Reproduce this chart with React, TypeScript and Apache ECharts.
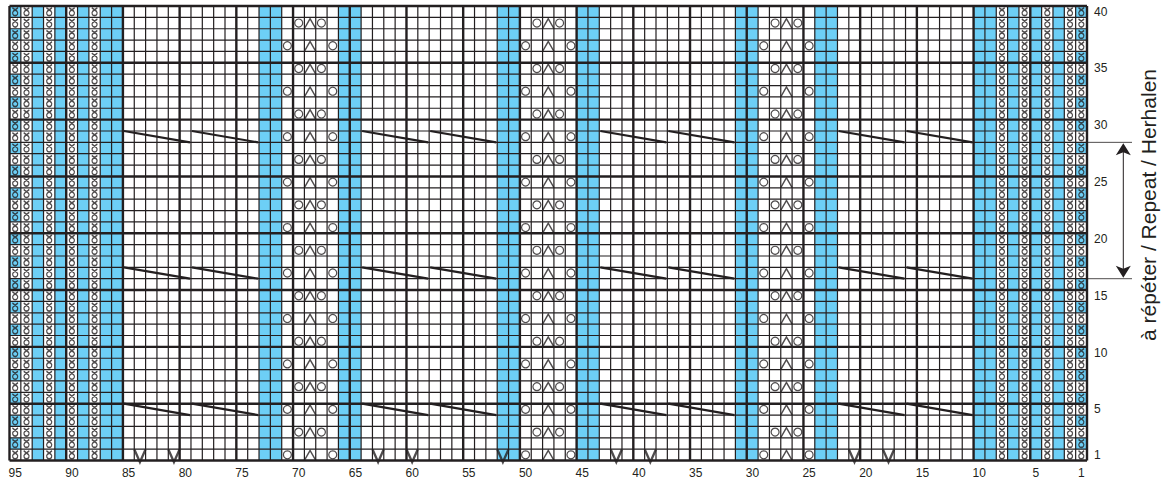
import React, { useEffect, useRef } from "react";
import * as echarts from "echarts";

const columns = [95,94,93,92,91,90,89,88,87,86,85,84,83,82,81,80,79,78,77,76,75,74,73,72,71,70,69,68,67,66,65,64,63,62,61,60,59,58,57,56,55,54,53,52,51,50,49,48,47,46,45,44,43,42,41,40,39,38,37,36,35,34,33,32,31,30,29,28,27,26,25,24,23,22,21,20,19,18,17,16,15,14,13,12,11,10,9,8,7,6,5,4,3,2,1];
const rows = [1,2,3,4,5,6,7,8,9,10,11,12,13,14,15,16,17,18,19,20,21,22,23,24,25,26,27,28,29,30,31,32,33,34,35,36,37,38,39,40];
const columnLabels = [95,90,85,80,75,70,65,60,55,50,45,40,35,30,25,20,15,10,5,1];
const rowLabels = [1,5,10,15,20,25,30,35,40];

const blueColumns = [93,91,89,87,86,73,72,66,65,52,51,45,44,31,30,24,23,10,9,7,5,3];
const edgeColumns = [95,1];
const evenRows = [2,4,6,8,10,12,14,16,18,20,22,24,26,28,30,32,34,36,38,40];
const twistedColumns = [95,94,92,90,88,8,6,4,2,1];

const motifCentres = [69,48,27];
const closeRows = [3,7,11,15,19,23,27,31,35,39];
const wideRows = [1,5,9,13,17,21,25,29,33,37];
const closeOffsets = [-1,1];
const wideOffsets = [-2,2];

const slantRows = [29,17,5];
const slantStarts = [85,79,64,58,43,37,22,16];
const slantSpan = 6;
const slipColumns = [84,81,63,60,52,42,39,21,18];

const repeatFrom = 16;
const repeatTo = 28;
const repeatLabel = "à répéter / Repeat / Herhalen";

const INK = "#231f20";
const BLUE = "#6dcff6";
const TWIST = "path://M0.5 0 L5.5 4.5 C7 6.5 6 10 3.5 10 C1 10 0 6.5 1.5 4.5 L6.5 0";
const DEC = "path://M0 10 L5 0 L10 10";
const SLIP = "path://M0 0 L5.5 12 L11 0";

const colIdx = (c: number) => columns.indexOf(c);
const rowIdx = (r: number) => rows.indexOf(r);

const blueData: number[][] = [];
blueColumns.forEach((c) => rows.forEach((r) => blueData.push([colIdx(c), rowIdx(r)])));
edgeColumns.forEach((c) => evenRows.forEach((r) => blueData.push([colIdx(c), rowIdx(r)])));

const twistData: number[][] = [];
twistedColumns.forEach((c) => rows.forEach((r) => twistData.push([colIdx(c), rowIdx(r)])));

const holeData: number[][] = [];
const decData: number[][] = [];
motifCentres.forEach((m) => {
  closeRows.forEach((r) => {
    decData.push([colIdx(m), rowIdx(r)]);
    closeOffsets.forEach((o) => holeData.push([colIdx(m + o), rowIdx(r)]));
  });
  wideRows.forEach((r) => {
    decData.push([colIdx(m), rowIdx(r)]);
    wideOffsets.forEach((o) => holeData.push([colIdx(m + o), rowIdx(r)]));
  });
});

const slantData: number[][] = [];
slantRows.forEach((r) => slantStarts.forEach((c) => slantData.push([colIdx(c), rowIdx(r)])));
const slipData = slipColumns.map((c) => [colIdx(c), rowIdx(1)]);

const vLines = [...columns.map((_, i) => i), columns.length];
const hLines = [...rows.map((_, i) => i), rows.length];
const gridData: number[][] = [
  ...vLines.map((i) => [0, i]),
  ...hLines.map((i) => [1, i]),
];

const renderCell = (_: any, api: any) => {
  const [cx, cy] = api.coord([api.value(0), api.value(1)]);
  const [w, h] = api.size([1, 1]);
  return { type: "rect", shape: { x: cx - w / 2, y: cy - h / 2, width: w, height: h }, style: { fill: BLUE } };
};

const renderGridLine = (params: any, api: any) => {
  const kind = api.value(0);
  const i = api.value(1);
  const sys = params.coordSys;
  const major = i % 5 === 0;
  const style = { stroke: INK, lineWidth: major ? 2.4 : 1.2, fill: "none" };
  const [w, h] = api.size([1, 1]);
  if (kind === 0) {
    const x = api.coord([0, 0])[0] - w / 2 + i * w;
    return { type: "line", z2: major ? 2 : 1, shape: { x1: x, y1: sys.y, x2: x, y2: sys.y + sys.height }, style };
  }
  const y = api.coord([0, 0])[1] + h / 2 - i * h;
  return { type: "line", z2: major ? 2 : 1, shape: { x1: sys.x, y1: y, x2: sys.x + sys.width, y2: y }, style };
};

const renderSlant = (_: any, api: any) => {
  const [cx, cy] = api.coord([api.value(0), api.value(1)]);
  const [w, h] = api.size([1, 1]);
  return {
    type: "line",
    shape: {
      x1: cx - w / 2 + 1,
      y1: cy - h / 2,
      x2: cx - w / 2 + slantSpan * w - 1,
      y2: cy + h / 2,
    },
    style: { stroke: INK, lineWidth: 2.2, lineCap: "butt" },
  };
};

const renderRepeat = (params: any, api: any) => {
  const sys = params.coordSys;
  const [, h] = api.size([1, 1]);
  const base = api.coord([0, 0])[1] + h / 2;
  const yLow = base - api.value(0) * h;
  const yHigh = base - api.value(1) * h;
  const x0 = sys.x + sys.width + 1;
  const x1 = sys.x + sys.width + 45;
  const ax = sys.x + sys.width + 36.3;
  return {
    type: "group",
    children: [
      { type: "line", shape: { x1: x0, y1: yHigh, x2: x1, y2: yHigh }, style: { stroke: INK, lineWidth: 0.8 } },
      { type: "line", shape: { x1: x0, y1: yLow, x2: x1, y2: yLow }, style: { stroke: INK, lineWidth: 0.8 } },
      { type: "line", shape: { x1: ax, y1: yHigh + 8, x2: ax, y2: yLow - 8 }, style: { stroke: INK, lineWidth: 1 } },
      { type: "polygon", shape: { points: [[ax, yHigh + 1], [ax + 7.5, yHigh + 13], [ax, yHigh + 10], [ax - 7.5, yHigh + 13]] }, style: { fill: INK } },
      { type: "polygon", shape: { points: [[ax, yLow - 1], [ax + 7.5, yLow - 13], [ax, yLow - 10], [ax - 7.5, yLow - 13]] }, style: { fill: INK } },
    ],
  };
};

export default function App() {
  const ref = useRef<HTMLDivElement>(null);
  useEffect(() => {
    const chart = echarts.init(ref.current!, undefined, { renderer: "svg" });
    const labelFont = { fontFamily: "'Liberation Sans', sans-serif", fontSize: 12, color: INK };
    chart.setOption({
      animation: false,
      backgroundColor: "#ffffff",
      grid: { left: 9.5, right: 87, top: 6, bottom: 20.5, containLabel: false },
      xAxis: {
        type: "category",
        data: columns.map(String),
        axisLine: { show: false },
        axisTick: { show: false },
        splitLine: { show: false },
        axisLabel: {
          ...labelFont,
          margin: 6,
          interval: (_: number, v: string) => columnLabels.includes(Number(v)),
        },
      },
      yAxis: {
        type: "category",
        position: "right",
        data: rows.map(String),
        axisLine: { show: false },
        axisTick: { show: false },
        splitLine: { show: false },
        axisLabel: {
          ...labelFont,
          margin: 7,
          align: "left",
          interval: (_: number, v: string) => rowLabels.includes(Number(v)),
        },
      },
      series: [
        {
          type: "custom",
          name: "blue",
          data: blueData,
          z: 1,
          renderItem: renderCell,
          encode: { x: 0, y: 1 },
          silent: true,
          progressive: 0,
        },
        {
          type: "custom",
          name: "grid",
          data: gridData,
          z: 2,
          clip: false,
          renderItem: renderGridLine,
          silent: true,
          progressive: 0,
        },
        {
          type: "scatter",
          name: "twisted",
          data: twistData,
          z: 3,
          symbol: TWIST,
          symbolSize: [5.6, 8],
          itemStyle: { color: "none", borderColor: INK, borderWidth: 1.4 },
          large: false,
          progressive: 0,
        },
        {
          type: "scatter",
          name: "yarn over",
          data: holeData,
          z: 3,
          symbol: "circle",
          symbolSize: 8,
          itemStyle: { color: "#ffffff", borderColor: INK, borderWidth: 1.2 },
        },
        {
          type: "scatter",
          name: "decrease",
          data: decData,
          z: 3,
          symbol: DEC,
          symbolSize: [11.5, 10],
          symbolOffset: [0, 0.7],
          itemStyle: { color: "none", borderColor: INK, borderWidth: 1.4 },
        },
        {
          type: "scatter",
          name: "slip",
          data: slipData,
          z: 4,
          symbol: SLIP,
          symbolSize: [11, 12.5],
          symbolOffset: [0, 1],
          clip: false,
          itemStyle: { color: "none", borderColor: INK, borderWidth: 2.4 },
        },
        {
          type: "custom",
          name: "cable",
          data: slantData,
          z: 4,
          clip: false,
          renderItem: renderSlant,
          encode: { x: 0, y: 1 },
        },
        {
          type: "custom",
          name: "repeat",
          data: [[repeatFrom, repeatTo]],
          z: 4,
          clip: false,
          renderItem: renderRepeat,
        },
      ],
      graphic: [
        {
          type: "text",
          x: 1148,
          y: 205,
          rotation: Math.PI / 2,
          style: {
            text: repeatLabel,
            fontFamily: "'Liberation Sans', Arial, sans-serif",
            fontSize: 21,
            fill: INK,
            align: "center",
            verticalAlign: "middle",
          },
        },
      ],
    });
    return () => chart.dispose();
  }, []);
  return <div ref={ref} style={{ position: "absolute", left: 0, top: 0, width: 1174, height: 481 }} />;
}
